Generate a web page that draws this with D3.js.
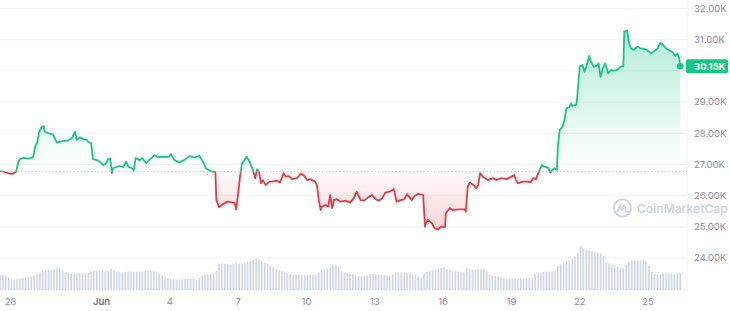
<!DOCTYPE html>
<html><head><meta charset="utf-8">
<script src="https://cdn.jsdelivr.net/npm/d3@7"></script>
<style>
html,body{margin:0;padding:0;background:#fff;}
svg{display:block;font-family:Inter,"Noto Sans",sans-serif;}
</style></head><body>
<svg id="chart" width="730" height="311"></svg>
<script>
// ---------- DATA ----------
const startTime = Date.UTC(2023, 4, 27, 13, 30); // first point of the series
const openPrice = 26770;                          // reference (dotted) price
const priceHours = [
  0,5,11,14,17,19,21,25,30,34,
  35,37,39,41,44,46,47,50,53,56,
  60,63,67,71,74,76,79,81,84,88,
  91,93,96,98,102,105,109,112,114,116,
  118,119,123,126,130,133,135,139,141,143,
  147,150,154,157,163,166,171,175,178,180,
  184,189,194,200,205,210,214,217,222,227,
  228,231,235,240,245,247,249,251,253,255,
  257,260,263,266,269,271,273,275,277,280,
  284,287,292,295,299,301,304,308,313,317,
  320,324,327,332,334,336,338,339,343,346,
  348,350,352,355,359,364,369,373,376,380,
  384,389,392,396,399,403,406,411,415,418,
  422,426,429,434,437,441,446,448,449,451,
  455,458,462,465,469,470,474,477,483,490,
  491,493,495,499,502,504,506,509,514,520,
  523,528,534,539,542,544,546,551,557,559,
  562,565,568,571,574,578,580,584,587,588,
  590,593,595,597,600,602,603,607,608,611,
  614,616,618,621,623,626,630,631,633,636,
  638,641,644,647,651,654,657,658,661,663,
  665,668,672,675,679,682,686,689,693,696,
  698,702,705,709,712,714,716,717
];
const priceValues = [
  26790,26760,26700,26710,26770,27050,27170,27210,27190,27220,
  27250,27570,27690,28010,28210,28230,28050,28010,27980,27960,
  27700,27730,27750,27770,27810,27850,28050,27790,27870,27810,
  27800,27730,27680,27170,27140,27090,26980,27050,27170,27190,
  26730,26880,26920,26950,26920,27090,26930,26880,26820,27210,
  27140,27200,27040,27140,27300,27230,27250,27240,27250,27340,
  27140,27070,27140,27270,27230,27280,27090,26880,26790,26760,
  25860,25630,25730,25810,25780,25770,25560,26080,26610,27040,
  27110,27250,27090,26880,26560,26850,26770,26400,26500,26340,
  26450,26450,26480,26420,26720,26610,26630,26530,26560,26700,
  26660,26500,26530,26450,26340,25860,25540,25650,25700,25650,
  26020,25600,25860,25890,25810,25840,25780,25920,26130,25860,
  25850,25970,26020,25890,25840,25920,26100,26130,26210,25810,
  25860,25880,26050,25860,25990,26060,26020,25010,25120,25220,
  25120,24960,24920,25010,24990,25440,25600,25540,25560,25560,
  25490,26290,26420,26340,26240,26340,26720,26610,26500,26560,
  26500,26560,26530,26610,26660,26500,26400,26450,26450,26420,
  26560,26530,26770,26980,26930,26890,26750,26880,26820,27570,
  28110,28210,28430,28800,28830,28960,28880,28910,29010,30130,
  30190,29970,30130,30480,30290,30130,30190,30240,29810,30130,
  30240,29920,30030,30010,30030,30130,30160,31260,31290,30880,
  30720,30670,30780,30720,30710,30670,30560,30620,30720,30900,
  30860,30720,30670,30600,30480,30560,30400,30150
];
const volumeStepHours = 3;
const volumeValues = [ // traded volume, billions USD
  15,15,14.5,12,10.8,10.3,10.8,11.5,12,12.5,
  12.8,13.2,14,16,17.5,19.3,19.6,19.8,20.2,20.8,
  21.7,21.2,19.5,17.5,16.8,16,16.3,16.7,16.7,16.5,
  16.7,17,18.5,19.3,19.3,19,19.3,19.3,19.6,21,
  19.5,18.3,18,17.7,18.2,18.5,18.7,18.3,18.5,18.3,
  18.7,19.3,19.3,19,18.7,17.8,16.3,14.5,13,11.8,
  11,10.6,10.3,10.5,10.8,11,11.2,11.5,11.2,10.5,
  12,14,15,15.8,16.3,16.8,19,26.2,26.7,26.3,
  25.8,25.3,26,27.5,26.5,26.5,27.2,27.8,28.8,30,
  31.5,30.5,29,27.3,26,24.5,22.7,21,19.8,18.8,
  17.5,16.7,16,15.3,15.3,15.3,15.3,15.3,15.3,15.3,
  15.3,14.5,17,20,20.3,21,22.5,24.3,24.5,23.5,
  19,17.5,17,16.5,16,14.5,13.7,14,14.3,14.5,
  16,16,15.7,15.3,15.3,14.8,14.3,14.3,15.5,17.7,
  17.7,17.7,17.5,17.2,16.7,16,15.3,13.5,12,16.5,
  18,18.7,19.5,20.3,21.2,22.2,22.5,21,19.8,19.3,
  18.8,18.5,17.8,17.5,21.7,20.8,20,20.5,21,20.8,
  20.5,19,15.5,14.5,14,13.5,12.5,11.8,11,11.2,
  11.5,11.7,11.7,11.7,11.7,11.7,11.7,12,16,17.2,
  17.5,18,18.3,18.3,18.3,19.5,24,25.8,27.5,28.5,
  29.8,31,33.5,37,43.5,41,40.3,39.5,38.8,38,
  37.5,36.5,34,27.5,26.5,25.5,24.5,23.5,22.5,21.5,
  25.5,28,29.3,29.5,29.5,29.5,29.3,28.5,24,18,
  16,15,15.5,16.5,16.5,16.3,16.2,16,16.5,17
];
const gridValues = [23000,24000,25000,26000,27000,28000,29000,30000,31000,32000];
// the 30.00K label sits under the current-price tag, so it is not drawn
const yTickValues = [24000,25000,26000,27000,28000,29000,31000,32000];
const yTickLabels = ["24.00K","25.00K","26.00K","27.00K","28.00K","29.00K","31.00K","32.00K"];
const xTickDates = ["2023-05-28","2023-06-01","2023-06-04","2023-06-07","2023-06-10","2023-06-13","2023-06-16","2023-06-19","2023-06-22","2023-06-25"];
const xTickLabels = ["28","Jun","4","7","10","13","16","19","22","25"];
const lastPriceLabel = "30.15K";
const watermarkText = "CoinMarketCap";

// ---------- CHART ----------
const GREEN = "#16c784", RED = "#ea3943";
const svg = d3.select("#chart");
const plotRight = 687;

const x = d3.scaleUtc()
  .domain([new Date(Date.UTC(2023,4,28)), new Date(Date.UTC(2023,5,25))])
  .range([10, 647.5]);
const y = d3.scaleLinear().domain([23000, 32000]).range([289.3, 8.5]);
const vy = d3.scaleLinear().domain([0, 45]).range([290, 245]);

const data = priceHours.map((h, i) => ({ t: new Date(startTime + h * 3600e3), v: priceValues[i] }));
const vol = volumeValues.map((v, i) => ({ t: new Date(startTime + i * volumeStepHours * 3600e3), v }));
const baseY = y(openPrice);

const defs = svg.append("defs");
const gG = defs.append("linearGradient").attr("id","gGreen").attr("gradientUnits","userSpaceOnUse")
  .attr("x1",0).attr("x2",0).attr("y1",y(31300)).attr("y2",baseY);
gG.append("stop").attr("offset",0).attr("stop-color",GREEN).attr("stop-opacity",0.32);
gG.append("stop").attr("offset",1).attr("stop-color",GREEN).attr("stop-opacity",0.0);
const gR = defs.append("linearGradient").attr("id","gRed").attr("gradientUnits","userSpaceOnUse")
  .attr("x1",0).attr("x2",0).attr("y1",baseY).attr("y2",y(24900));
gR.append("stop").attr("offset",0).attr("stop-color",RED).attr("stop-opacity",0.02);
gR.append("stop").attr("offset",1).attr("stop-color",RED).attr("stop-opacity",0.22);
defs.append("clipPath").attr("id","clipUp").append("rect")
  .attr("x",-20).attr("y",-20).attr("width",760).attr("height",baseY+20);
defs.append("clipPath").attr("id","clipDown").append("rect")
  .attr("x",-20).attr("y",baseY).attr("width",760).attr("height",400);

// grid
svg.append("g").selectAll("line").data(gridValues).join("line")
  .attr("x1",0).attr("x2",plotRight).attr("y1",d=>y(d)).attr("y2",d=>y(d))
  .attr("stroke","#eff2f5").attr("stroke-width",1);
svg.append("line").attr("x1",plotRight).attr("x2",plotRight).attr("y1",0).attr("y2",290)
  .attr("stroke","#eff2f5");

// volume
svg.append("g").selectAll("rect").data(vol).join("rect")
  .attr("x",d=>x(d.t)-0.8).attr("width",1.6)
  .attr("y",d=>vy(d.v)).attr("height",d=>vy(0)-vy(d.v))
  .attr("fill","#cfd6e3");

// watermark
const wm = svg.append("g").attr("transform","translate(622.5,208)");
wm.append("circle").attr("r",8.6).attr("fill","none").attr("stroke","#cdd4e2").attr("stroke-width",1.9);
wm.append("path").attr("d","M-5,3.5 L-2.6,-3 L-0.4,2.5 L1.6,-3 L3.6,2.8 Q5,5 7.8,3.6")
  .attr("fill","none").attr("stroke","#cdd4e2").attr("stroke-width",1.9).attr("stroke-linejoin","round").attr("stroke-linecap","round");
svg.append("text").attr("x",637).attr("y",212.7).text(watermarkText)
  .attr("font-size",12).attr("font-weight",600).attr("fill","#cdd4e2");

// baseline dotted
svg.append("line").attr("x1",0).attr("x2",plotRight).attr("y1",baseY).attr("y2",baseY)
  .attr("stroke","#b8bfcc").attr("stroke-width",1).attr("stroke-dasharray","1.2 2.3");

// areas + lines
const area = d3.area().x(d=>x(d.t)).y0(baseY).y1(d=>y(d.v));
const line = d3.line().x(d=>x(d.t)).y(d=>y(d.v));
svg.append("path").datum(data).attr("d",area).attr("fill","url(#gGreen)").attr("clip-path","url(#clipUp)");
svg.append("path").datum(data).attr("d",area).attr("fill","url(#gRed)").attr("clip-path","url(#clipDown)");
svg.append("path").datum(data).attr("d",line).attr("fill","none").attr("stroke",GREEN)
  .attr("stroke-width",1.8).attr("stroke-linejoin","round").attr("clip-path","url(#clipUp)");
svg.append("path").datum(data).attr("d",line).attr("fill","none").attr("stroke",RED)
  .attr("stroke-width",1.8).attr("stroke-linejoin","round").attr("clip-path","url(#clipDown)");
const last = data[data.length-1];
svg.append("circle").attr("cx",x(last.t)).attr("cy",y(last.v)).attr("r",3.3).attr("fill",GREEN);

// y labels
svg.append("g").selectAll("text").data(yTickValues).join("text")
  .attr("x",694).attr("y",d=>y(d)).attr("dy","0.35em")
  .attr("font-size",9.5).attr("fill","#858ca2").text((d,i)=>yTickLabels[i]);

// price tag
svg.append("rect").attr("x",686).attr("y",y(last.v)-7).attr("width",42).attr("height",14)
  .attr("rx",2).attr("fill",GREEN);
svg.append("text").attr("x",694).attr("y",y(last.v)).attr("dy","0.35em")
  .attr("font-size",9.5).attr("font-weight",700).attr("fill","#fff").text(lastPriceLabel);

// x axis
const xAxis = d3.axisBottom(x)
  .tickValues(xTickDates.map(s=>new Date(s+"T00:00:00Z")))
  .tickFormat((d,i)=>xTickLabels[i]).tickSize(0).tickPadding(0);
const gx = svg.append("g").attr("transform","translate(0,298)").call(xAxis);
gx.select(".domain").remove();
gx.selectAll("text").attr("font-size",9.5).attr("font-family","Inter,'Noto Sans',sans-serif")
  .attr("font-weight",(d,i)=>xTickLabels[i]==="Jun"?600:400)
  .attr("fill",(d,i)=>xTickLabels[i]==="Jun"?"#6b7388":"#858ca2");
</script>
</body></html>
